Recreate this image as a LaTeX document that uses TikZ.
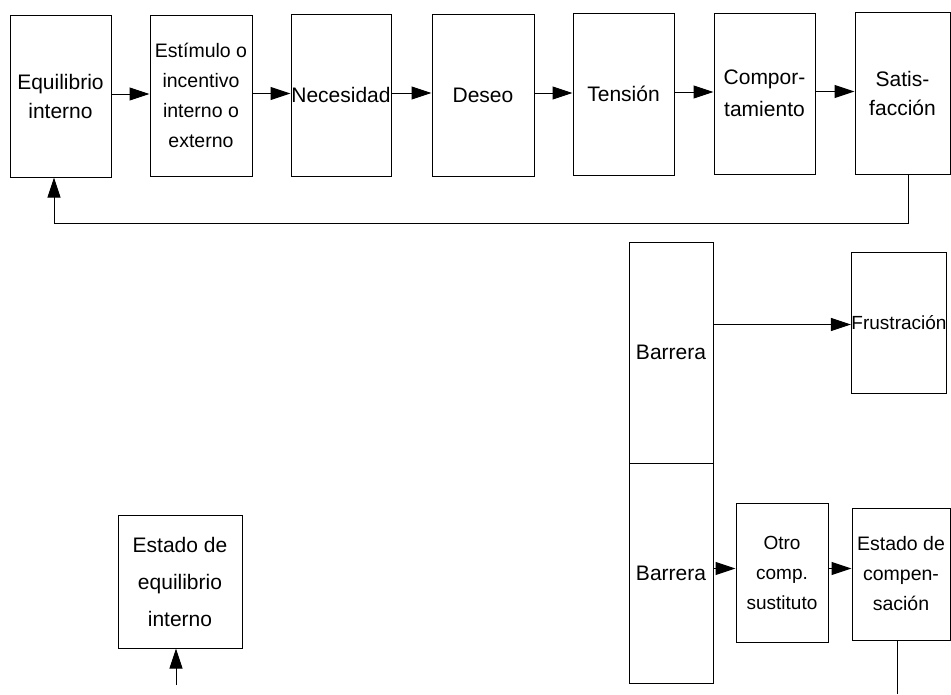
\documentclass[tikz,border=0pt]{standalone}
\usepackage{fontspec}
\setmainfont{Liberation Sans}
\usetikzlibrary{arrows.meta}
\begin{document}
\begin{tikzpicture}[x=1pt,y=-1pt,
  box/.style={draw, line width=1pt, inner sep=0pt, align=center,
    font=\fontsize{21}{29}\selectfont},
  smallbox/.style={box, font=\fontsize{19}{30}\selectfont},
  arr/.style={line width=1pt, -{Triangle[length=20pt,width=13pt]}},
  ln/.style={line width=1pt}]
\useasboundingbox (0,0) rectangle (951,694);
% top row
\node[box, minimum width=101pt, minimum height=162pt] (eq) at (60.5,96) {Equilibrio\\interno};
\node[box, font=\fontsize{19.5}{30}\selectfont, minimum width=102pt, minimum height=161pt] (est) at (201,95.5) {Estímulo o\\incentivo\\interno o\\externo};
\node[box, minimum width=100pt, minimum height=162pt] (nec) at (341,95) {Necesidad};
\node[box, minimum width=102pt, minimum height=162pt] (des) at (483,95) {Deseo};
\node[box, minimum width=101pt, minimum height=162pt] (ten) at (623.5,94) {Tensión};
\node[box, font=\fontsize{21}{32}\selectfont, minimum width=101pt, minimum height=161pt] (comp) at (764.5,93.5) {Compor-\\tamiento};
\node[box, minimum width=95pt, minimum height=162pt] (sat) at (902.5,93) {Satis-\\facción};
% arrows top row
\draw[arr] ([yshift=2]eq.east) -- ([yshift=2]eq.east -| est.west);
\draw[arr] ([yshift=2]est.east) -- ([yshift=2]est.east -| nec.west);
\draw[arr] ([yshift=2]nec.east) -- ([yshift=2]nec.east -| des.west);
\draw[arr] ([yshift=2]des.east) -- ([yshift=2]des.east -| ten.west);
\draw[arr] ([yshift=2]ten.east) -- ([yshift=2]ten.east -| comp.west);
\draw[arr] ([yshift=2]comp.east) -- ([yshift=2]comp.east -| sat.west);
% feedback
\coordinate (fb) at (54,223);
\draw[arr] ([xshift=5.5]sat.south) |- (fb) -- (fb |- eq.south);
% barrier part
\node[box, minimum width=84pt, minimum height=221pt] (bar1) at (671,352.5) {Barrera};
\node[box, minimum width=84pt, minimum height=220pt] (bar2) at (671,573) {Barrera};
\node[smallbox, minimum width=92pt, minimum height=141pt] (fru) at (899,322.5) {Frustración};
\node[smallbox, minimum width=92pt, minimum height=139pt] (otro) at (782,572.5) {Otro\\comp.\\sustituto};
\node[smallbox, font=\fontsize{19.5}{30}\selectfont, minimum width=98pt, minimum height=132pt] (ecomp) at (901,574) {Estado de\\compen-\\sación};
\draw[arr] ([yshift=-2]fru.west -| bar1.east) -- ([yshift=-2]fru.west);
\draw[arr] ([yshift=4]otro.west -| bar2.east) -- ([yshift=4]otro.west);
\draw[arr] ([yshift=4]otro.east) -- ([yshift=4]otro.east -| ecomp.west);
\coordinate (c1) at (897,694);
\draw[ln] (c1 |- ecomp.south) -- (c1);
% bottom-left
\node[box, font=\fontsize{21}{37}\selectfont, minimum width=124pt, minimum height=133pt] (eei) at (180,581.5) {Estado de\\equilibrio\\interno};
\coordinate (c2) at (176,685);
\draw[arr] (c2) -- (c2 |- eei.south);
\end{tikzpicture}
\end{document}
